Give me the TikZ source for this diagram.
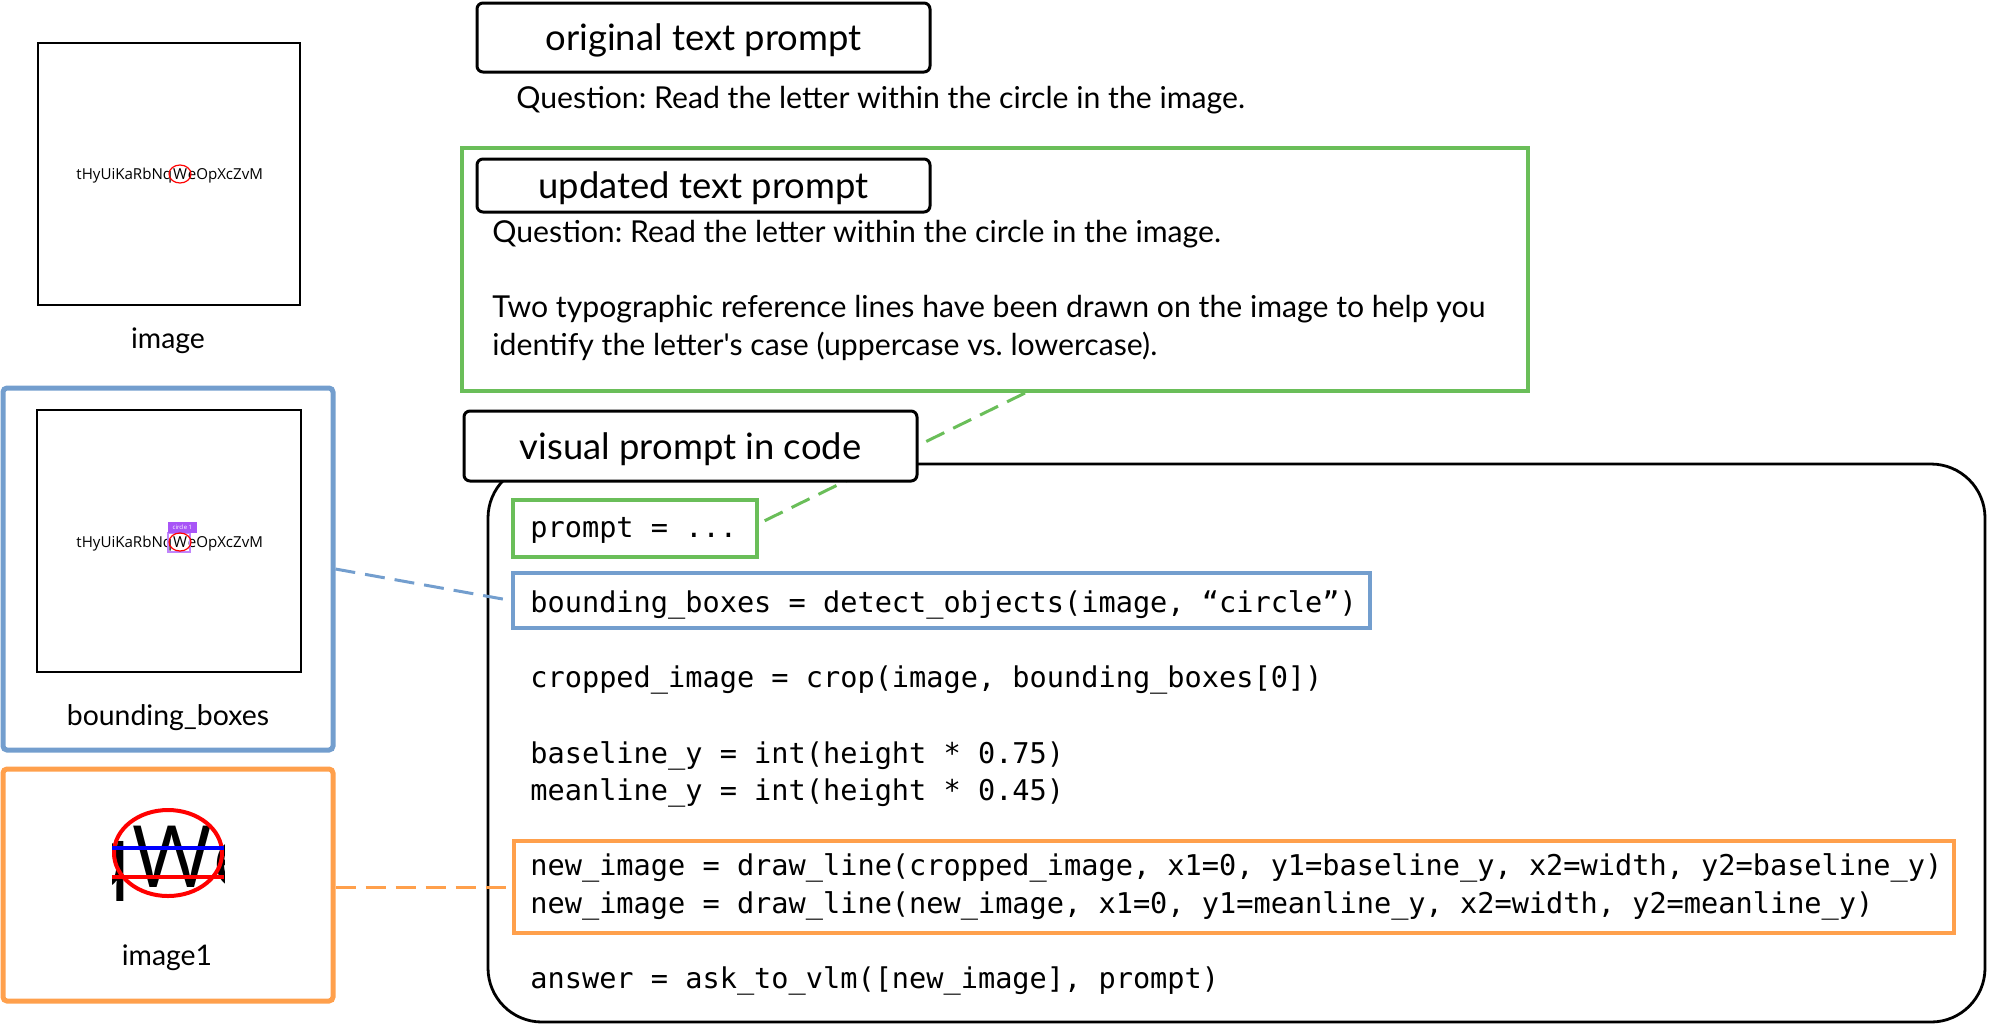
\documentclass[tikz,border=0pt]{standalone}
\usepackage{fontspec}
\setmainfont{Lato}
\newfontfamily\codefont{DejaVu Sans Mono}
\newfontfamily\thumbfont{Open Sans}
\definecolor{pgreen}{RGB}{106,190,89}
\definecolor{pblue}{RGB}{115,158,206}
\definecolor{porange}{RGB}{255,160,76}
\definecolor{ppurple}{RGB}{168,85,247}
\definecolor{plpurple}{RGB}{192,132,252}
\frenchspacing
\tikzset{
  header/.style={draw=black, line width=1.5pt, rounded corners=3pt, fill=white, inner sep=0pt,
    minimum width=226.5pt, text depth=0pt, font=\fontsize{18.2}{22}\selectfont},
  bodytxt/.style={anchor=base west, inner sep=0pt, font=\fontsize{15.1}{19}\selectfont},
  codetxt/.style={anchor=base west, inner sep=0pt, font=\codefont\fontsize{14.3}{17}\selectfont},
  lbl/.style={anchor=base, inner sep=0pt, font=\fontsize{14.2}{17}\selectfont},
  thumbtxt/.style={inner sep=0pt, font=\thumbfont\fontsize{7.55}{9}\selectfont},
  bigletter/.style={inner sep=0pt, font=\thumbfont\fontsize{43}{50}\selectfont},
  thumbsq/.style={draw=black, line width=1pt},
  colbox/.style={draw=#1, line width=2.5pt, rounded corners=2pt, inner sep=0pt},
  codebox/.style={draw=#1, line width=2pt, inner sep=0pt},
  conn/.style={draw=#1, line width=1.5pt, dash pattern=on 10pt off 5pt},
}
\begin{document}
\begin{tikzpicture}[x=0.5pt,y=-0.5pt]
\useasboundingbox (0,0) rectangle (1990,1025);

% ---------- left column: image thumbnail ----------
\draw[thumbsq] (38,43) rectangle (300,305);
\node[thumbtxt] (w1) at (180,174) {W};
\node[thumbtxt, anchor=base east] (l1) at (w1.base west) {tHyUiKaRbNq};
\node[thumbtxt, anchor=base west] (r1) at (w1.base east) {eOpXcZvM};
\draw[red, line width=0.6pt] (w1.center) ellipse [x radius=5.5pt, y radius=4.5pt];
\node[lbl] (limage) at (168,348) {image};

% ---------- bounding boxes thumbnail ----------
\node[colbox=pblue, minimum width=165pt, minimum height=181pt] (bb) at (168,569) {};
\draw[thumbsq] (37,410) rectangle (301,672);
\node[thumbtxt] (w2) at (180,542) {W};
\node[thumbtxt, anchor=base east] (l2) at (w2.base west) {tHyUiKaRbNq};
\node[thumbtxt, anchor=base west] (r2) at (w2.base east) {eOpXcZvM};
\draw[plpurple, line width=0.8pt] (168,533) rectangle (190,552);
\node[fill=ppurple, text=white, inner sep=0pt, minimum width=14.5pt, minimum height=5.5pt,
  font=\thumbfont\fontsize{3}{3}\selectfont, anchor=south west] (tag) at (167.5,533) {circle 1};
\draw[red, line width=0.6pt] (w2.center) ellipse [x radius=5.5pt, y radius=4.5pt];
\node[lbl] (lbb) at (168,725) {bounding\_boxes};

% ---------- image1 thumbnail ----------
\node[colbox=porange, minimum width=165pt, minimum height=116pt] (ob) at (168,885) {};
\begin{scope}
  \clip (112,808) rectangle (224,900);
  \node[bigletter, anchor=base] (bw) at (172,887) {W};
  \node[bigletter, anchor=base east] (bq) at (bw.base west) {q};
  \node[bigletter, anchor=base west] (be) at (bw.base east) {e};
  \draw[red, line width=2pt] (168,853) ellipse [x radius=27pt, y radius=21.5pt];
  \draw[blue, line width=2pt] (112,848) -- (224,848);
  \draw[red, line width=1.6pt] (112,877) -- (224,877);
\end{scope}
\node[lbl] (limg1) at (167,965) {image1};

% ---------- text prompts ----------
\node[header, minimum height=34.5pt] (h1) at (703.5,37.5) {original text prompt};
\node[bodytxt] (q1) at (516,108) {Question: Read the letter within the circle in the image.};

\node[codebox=pgreen, minimum width=533pt, minimum height=121.5pt] (gbox) at (995,269.5) {};
\node[header, minimum height=26.5pt] (h2) at (703.5,185.5) {updated text prompt};
\node[bodytxt] (q2) at (492,242) {Question: Read the letter within the circle in the image.};
\node[bodytxt] (t2) at (492,317) {Two typographic reference lines have been drawn on the image to help you};
\node[bodytxt] (i2) at (492,355) {identify the letter\textquotesingle s case (uppercase vs. lowercase).};

% ---------- code panel ----------
\draw[line width=1.4pt, rounded corners=27pt] (488,464) rectangle (1985,1022);

\node[codebox=pgreen, minimum width=122pt, minimum height=28.5pt] (pbox) at (635,528.5) {};
\node[codebox=pblue, minimum width=428.5pt, minimum height=27.5pt] (bcode) at (941.5,600.5) {};
\node[codebox=porange, minimum width=720pt, minimum height=46pt] (ocode) at (1234,887) {};

\draw[conn=pgreen] ([xshift=15pt]gbox.south) -- ([yshift=2.5pt]pbox.east);
\node[header, minimum height=35pt] (h3) at (690.5,446) {visual prompt in code};

\draw[conn=pblue] (bb.east) -- (bcode.west);
\draw[conn=porange] (ocode.west -| ob.east) -- (ocode.west);

\node[codetxt] (c1) at (530,537) {prompt = ...};
\node[codetxt] (c2) at (530,612) {bounding\_boxes = detect\_objects(image, “circle”)};
\node[codetxt] (c3) at (530,687) {cropped\_image = crop(image, bounding\_boxes[0])};
\node[codetxt] (c4) at (530,763) {baseline\_y = int(height * 0.75)};
\node[codetxt] (c5) at (530,800) {meanline\_y = int(height * 0.45)};
\node[codetxt] (c6) at (530,875) {new\_image = draw\_line(cropped\_image, x1=0, y1=baseline\_y, x2=width, y2=baseline\_y)};
\node[codetxt] (c7) at (530,913) {new\_image = draw\_line(new\_image, x1=0, y1=meanline\_y, x2=width, y2=meanline\_y)};
\node[codetxt] (c8) at (530,988) {answer = ask\_to\_vlm([new\_image], prompt)};
\end{tikzpicture}
\end{document}
